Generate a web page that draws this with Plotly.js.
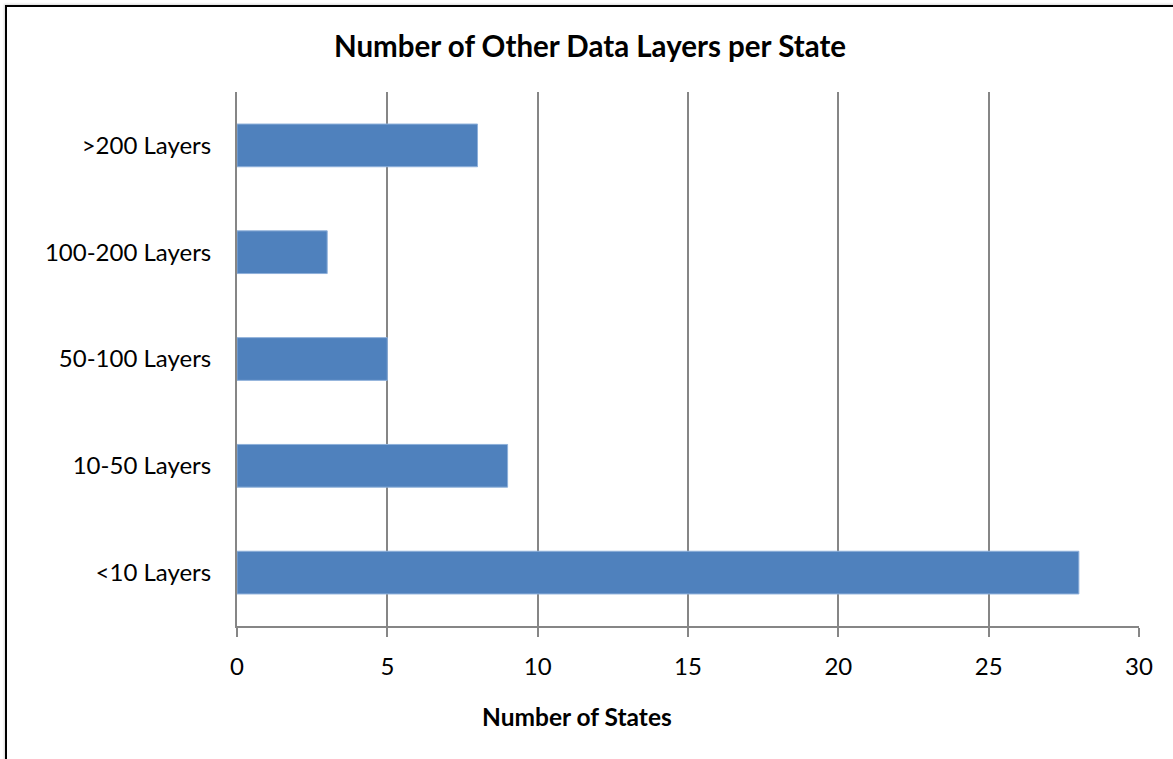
<!DOCTYPE html>
<html>
<head>
<meta charset="utf-8">
<script src="https://cdn.plot.ly/plotly-3.0.1.min.js"></script>
<style>
html,body{margin:0;padding:0;background:#fff;overflow:hidden;}
#frame{position:absolute;left:5px;top:5px;width:1200px;height:800px;border-left:2px solid #000;border-top:2px solid #000;box-shadow:-1px -1px 2px rgba(0,0,0,0.15);}
#chart{position:absolute;left:0;top:0;width:1173px;height:759px;}
</style>
</head>
<body>
<div id="frame"></div>
<div id="chart"></div>
<script>
var categories = ['<10 Layers', '10-50 Layers', '50-100 Layers', '100-200 Layers', '>200 Layers'];
var values = [28, 9, 5, 3, 8];
var xTicks = [0, 5, 10, 15, 20, 25, 30];

var font = 'Lato, "Open Sans", "Liberation Sans", sans-serif';

var trace = {
  type: 'bar',
  orientation: 'h',
  x: values,
  y: categories,
  marker: {color: '#4F81BD', line: {color: '#8EB0DA', width: 1}},
  hoverinfo: 'x+y'
};

var layout = {
  width: 1173,
  height: 759,
  paper_bgcolor: 'rgba(0,0,0,0)',
  plot_bgcolor: 'rgba(0,0,0,0)',
  margin: {l: 237, r: 34, t: 92, b: 133},
  bargap: 0.6,
  showlegend: false,
  title: {
    text: '<b>Number of Other Data Layers per State</b>',
    font: {family: font, size: 29.5, color: '#000'},
    x: 0.503, xanchor: 'center',
    y: 1 - 46.5/759, yanchor: 'middle'
  },
  annotations: [{
    text: '<b>Number of States</b>',
    font: {family: font, size: 24.5, color: '#000'},
    xref: 'paper', yref: 'paper',
    x: 0.377, y: -0.1704,
    xanchor: 'center', yanchor: 'middle',
    showarrow: false
  }],
  xaxis: {
    range: [0, 30],
    tickvals: xTicks,
    ticktext: xTicks.map(String),
    showgrid: true,
    gridcolor: '#868686',
    gridwidth: 2,
    showline: true,
    linecolor: '#868686',
    linewidth: 2,
    ticks: 'outside',
    ticklen: 9,
    tickwidth: 2,
    tickcolor: '#868686',
    ticklabelstandoff: 9,
    zeroline: false,
    tickfont: {family: font, size: 24, color: '#000'}
  },
  yaxis: {
    range: [-0.5, 4.5],
    type: 'category',
    showgrid: false,
    showline: true,
    linecolor: '#868686',
    linewidth: 2,
    ticks: '',
    ticklabelstandoff: 19,
    tickfont: {family: font, size: 24, color: '#000'},
    zeroline: false
  }
};

Plotly.newPlot('chart', [trace], layout, {displayModeBar: false, staticPlot: true});
</script>
</body>
</html>
